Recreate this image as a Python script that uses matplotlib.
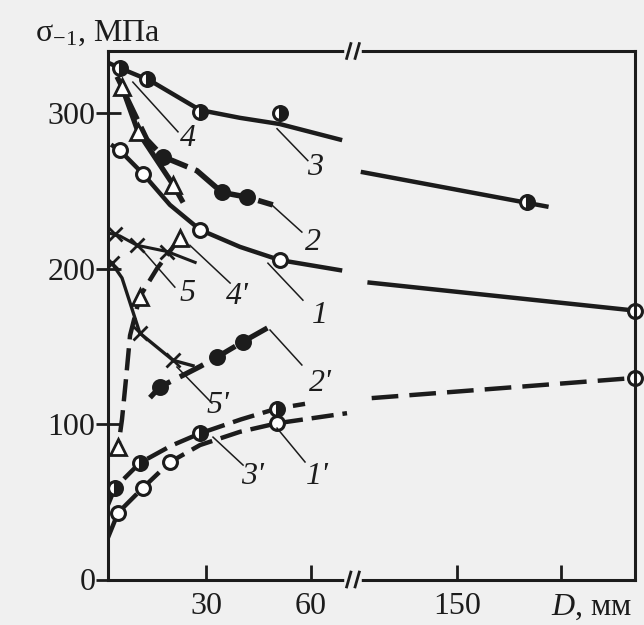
import numpy as np
import matplotlib
matplotlib.use('Agg')
import matplotlib.pyplot as plt

plt.rcParams['font.family'] = ['Liberation Serif', 'DejaVu Serif']
plt.rcParams['font.size'] = 23
plt.rcParams['mathtext.fontset'] = 'custom'
plt.rcParams['mathtext.rm'] = 'Liberation Serif'
plt.rcParams['mathtext.it'] = 'Liberation Serif:italic'

# --- data: D (mm) and sigma_-1 (MPa) ---
# curve 1 (solid, open circles)
c1_D = [3.4, 5.4, 12, 19.7, 28.3, 39.7, 51.1, 68.3]
c1_s = [279, 276, 261, 241, 225, 214, 205.5, 199]
c1_pD = [5.4, 12, 28.3, 51.1]
c1_ps = [276, 261, 225, 205.5]
c1_rD = [108, 235.6]
c1_rs = [191, 173]

# curve 2 (thick, filled circles)
c2_D = [6.9, 13.1, 17.7, 27.4, 34.6, 41.7, 49.1]
c2_s = [312, 283, 272, 263, 249, 246, 241]
c2_pD = [17.7, 34.6, 41.7]
c2_ps = [272, 249, 246]

# curve 3 (solid, half filled circles)
c3_D = [2.5, 5.4, 14, 28.3, 39.7, 51.1, 68.3]
c3_s = [332, 329, 321, 302, 297, 293, 283]
c3_pD = [5.4, 13.1, 28.3, 51.1]
c3_ps = [329, 322, 301, 300]
c3_rD = [104.8, 193]
c3_rs = [262, 240]
c3_rpD = [183.7]
c3_rps = [243]

# curve 4 (solid, triangles)
c4_D = [4.9, 6, 10.6, 20.6, 23.1]
c4_s = [322, 317, 288, 254, 244]
c4_pD = [6, 10.6, 20.6]
c4_ps = [317, 288, 254]

# curve 5 (thin, crosses)
c5_D = [2, 5.4, 10.3, 18.9, 26.9]
c5_s = [223, 221, 215, 211, 204]
c5_pD = [4, 10.3, 18.9]
c5_ps = [222, 215, 211]

# primed curves
c4p_D = [22.6, 16, 11.1, 8.3, 7.1, 6, 4.9]
c4p_s = [220, 200, 182, 157, 128, 103, 85]
c4p_pD = [22.6, 11.1, 4.9]
c4p_ps = [220, 182, 85]

c5p_D = [3.1, 6, 11.1, 20.6, 26.3]
c5p_s = [203.5, 194, 158.5, 141, 137.5]
c5p_pD = [3.1, 11.1, 20.6]
c5p_ps = [203.5, 158.5, 141]

c2p_D = [14, 16.9, 23.1, 28.3, 33.1, 40.6, 47.7]
c2p_s = [117, 124, 131, 137, 143, 153, 162]
c2p_pD = [16.9, 33.1, 40.6]
c2p_ps = [124, 143, 153]

c3p_D = [2, 4, 11.1, 20, 28.3, 40, 50.3, 58.3]
c3p_s = [48, 59, 75, 86, 94, 103, 110, 113]
c3p_pD = [4, 11.1, 28.3, 50.3]
c3p_ps = [59, 75, 94, 110]

c1p_D = [2, 4.9, 12, 19.7, 28.3, 39.7, 50.3, 70.3]
c1p_s = [27, 43, 59, 75.5, 86.5, 95, 100.5, 107]
c1p_pD = [4.9, 12, 19.7, 50.3]
c1p_ps = [43, 59, 75.5, 100.5]
c1p_rD = [109, 234.6]
c1p_rs = [116.7, 129.6]

# labels: text, label position, leader start, leader end
labels = [
    ('4', (24.9, 284), (9.1, 320), (22, 288)),
    ('3', (61.1, 265), (50.3, 290), (59.1, 269.5)),
    ('2', (60.6, 217), (48.3, 242), (57.4, 223.5)),
    ('1', (62.6, 170), (47.7, 203.5), (57.7, 179.7)),
    ("4'", (38.9, 182), (25.4, 215), (36.9, 190.7)),
    ('5', (24.6, 184), (11.1, 213.8), (21.1, 188.1)),
    ("5'", (33.4, 112), (21.7, 136.7), (31.7, 113.5)),
    ("2'", (62.6, 126), (48.3, 160.5), (57.4, 138)),
    ("3'", (43.4, 66), (32, 91.6), (40.6, 73.6)),
    ("1'", (61.7, 66), (50.3, 97.4), (58.3, 75.6)),
]

# broken x axis: 2..72 mm on the left, 100..236 mm on the right
def fwd(d):
    return np.interp(d, [-1000, 72, 100, 1000], [-3507, 245, 245.01, 245.01 + 900 * 2.08])

def inv(u):
    return np.interp(u, [-3507, 245, 245.01, 245.01 + 900 * 2.08], [-1000, 72, 100, 1000])

k = '#1c1c1c'
bg = '#f0f0f0'

fig = plt.figure(figsize=(6.44, 6.25), dpi=100, facecolor=bg)
ax = fig.add_axes([0.1677, 0.0728, 0.8183, 0.8456])
ax.set_facecolor(bg)
ax.set_xscale('function', functions=(fwd, inv))
ax.set_xlim(2, 235.6)
ax.set_ylim(0, 340)

lw = 3.2
dash = (5, 2)
mk = dict(markersize=10, markeredgewidth=2.2, markeredgecolor=k, clip_on=False)

# curve 1
ax.plot(c1_D, c1_s, color=k, lw=lw)
ax.plot(c1_rD, c1_rs, color=k, lw=lw)
ax.plot(c1_pD + [c1_rD[-1]], c1_ps + [c1_rs[-1]], 'o', mfc='white', ls='none', **mk)
# curve 2
ax.plot(c2_D, c2_s, color=k, lw=lw + 0.8, dashes=(5, 1.5))
ax.plot(c2_pD, c2_ps, 'o', mfc=k, ls='none', **mk)
# curve 3
ax.plot(c3_D, c3_s, color=k, lw=lw)
ax.plot(c3_rD, c3_rs, color=k, lw=lw)
ax.plot(c3_pD + c3_rpD, c3_ps + c3_rps, 'o', mfc=k, fillstyle='right',
        markerfacecoloralt='white', ls='none', **mk)
# curve 4
ax.plot(c4_D, c4_s, color=k, lw=lw + 0.6)
ax.plot(c4_pD, c4_ps, '^', mfc='white', ls='none', markersize=12,
        markeredgewidth=2, markeredgecolor=k)
# curve 5
ax.plot(c5_D, c5_s, color=k, lw=2.2)
ax.plot(c5_pD, c5_ps, 'x', color=k, ls='none', markersize=10, markeredgewidth=2)
# curve 4'
ax.plot(c4p_D, c4p_s, color=k, lw=lw, dashes=dash)
ax.plot(c4p_pD, c4p_ps, '^', mfc='white', ls='none', markersize=12,
        markeredgewidth=2, markeredgecolor=k)
# curve 5'
ax.plot(c5p_D, c5p_s, color=k, lw=2.4)
ax.plot(c5p_pD, c5p_ps, 'x', color=k, ls='none', markersize=10, markeredgewidth=2)
# curve 2'
ax.plot(c2p_D, c2p_s, color=k, lw=lw + 0.6, dashes=dash)
ax.plot(c2p_pD, c2p_ps, 'o', mfc=k, ls='none', **mk)
# curve 3'
ax.plot(c3p_D, c3p_s, color=k, lw=lw, dashes=dash)
ax.plot(c3p_pD, c3p_ps, 'o', mfc=k, fillstyle='right',
        markerfacecoloralt='white', ls='none', **mk)
# curve 1'
ax.plot(c1p_D, c1p_s, color=k, lw=lw, dashes=dash)
ax.plot(c1p_rD, c1p_rs, color=k, lw=lw, dashes=(6, 2.5))
ax.plot(c1p_pD + [235.6], c1p_ps + [c1p_rs[-1]], 'o', mfc='white', ls='none', **mk)

# curve labels with leader lines
for txt, pos, a, b in labels:
    ax.plot([a[0], b[0]], [a[1], b[1]], color=k, lw=1.1)
    ax.text(pos[0], pos[1], txt, style='italic', ha='center', va='center', color=k)

# axes styling
for s in ax.spines.values():
    s.set_linewidth(2.2)
    s.set_color(k)
ax.set_xticks([30, 60, 150, 200])
ax.set_xticklabels(['30', '60', '150', ''])
ax.set_yticks([0, 100, 200, 300])
ax.set_yticklabels(['0', '100', '200', '300'])
ax.tick_params(axis='x', direction='in', length=11, width=2, colors=k, pad=9)
ax.tick_params(axis='y', direction='inout', length=18, width=2, colors=k, pad=0)

# axis break marks at the scale gap
xb = fwd(72) / fwd(235.6)
for yy in (0, 1):
    ax.plot([xb - 0.012, xb + 0.012], [yy, yy], color=bg, lw=4,
            transform=ax.transAxes, clip_on=False, zorder=5)
    for dx in (-0.008, 0.008):
        ax.plot([xb + dx - 0.004, xb + dx + 0.004], [yy - 0.014, yy + 0.014],
                color=k, lw=2, transform=ax.transAxes, clip_on=False, zorder=6)

ax.text(0.995, -0.053, '$D$, мм', transform=ax.transAxes,
        ha='right', va='center', color=k)
fig.text(0.054, 0.934, 'σ$_{-1}$, МПа', ha='left', va='baseline', color=k)

fig.savefig('out.png', dpi=100, facecolor=bg)
